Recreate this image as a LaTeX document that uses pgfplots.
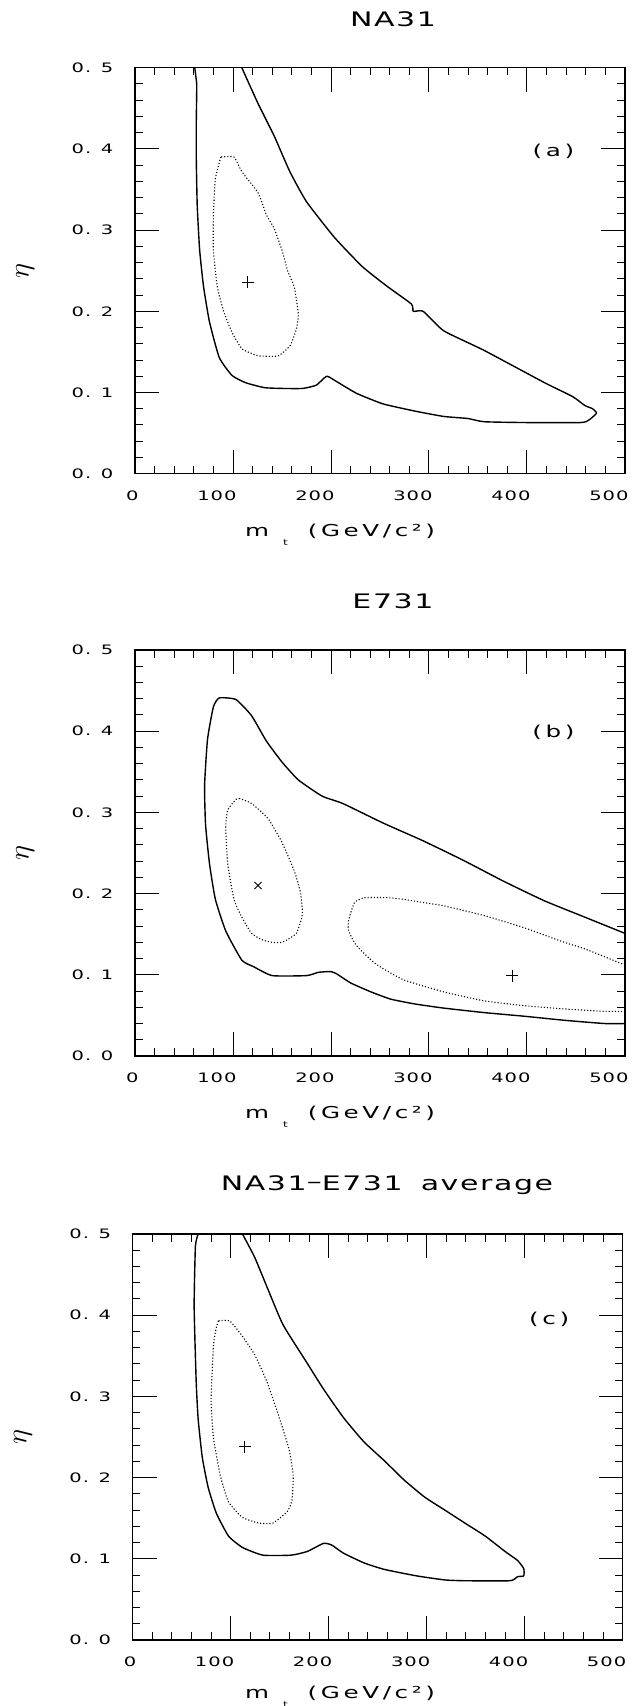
\documentclass[border=0pt]{standalone}
\usepackage{fontspec}
\setmainfont{DejaVu Sans}
\newfontfamily\tickfont{DejaVu Sans}[FakeStretch=1.5,LetterSpace=8]
\newfontfamily\titlefont{DejaVu Sans}[FakeStretch=1.5,LetterSpace=8]
\newfontfamily\labfont{DejaVu Sans}[FakeStretch=1.5,LetterSpace=22]
\usepackage{pgfplots}
\pgfplotsset{compat=1.18}
\pgfplotsset{panel/.style={
  scale only axis, width=245pt, height=203pt, anchor=north west,
  xmin=0, xmax=500, ymin=0, ymax=0.5,
  xtick={0,100,200,300,400,500},
  ytick={0,0.1,0.2,0.3,0.4,0.5},
  xticklabels={{0\hspace{-3pt}},100,200,300,400,500},
  yticklabels={0. 0,0. 1,0. 2,0. 3,0. 4,0. 5},
  minor x tick num=4, minor y tick num=4,
  tick pos=both, tick align=inside,
  major tick length=12pt, minor tick length=3.85pt,
  every tick/.style={black, line width=0.5pt},
  axis line style={line width=0.6pt},
  xticklabel style={font=\tickfont\fontsize{6.5}{7}\selectfont, anchor=north east, inner sep=0pt, xshift=2pt, yshift=-8.3pt},
  yticklabel style={font=\tickfont\fontsize{6.5}{7}\selectfont, anchor=east, inner sep=0pt, xshift=-10.6pt},
  title style={font=\titlefont\fontsize{10}{11}\selectfont, anchor=center, inner sep=0pt, yshift=0pt},
  xlabel style={font=\labfont\fontsize{8.2}{9}\selectfont, at={(axis description cs:0.224,-0.1537)}, anchor=base west, inner sep=0pt},
  ylabel style={at={(axis description cs:-0.224,0.5)}, anchor=center, inner sep=0pt, font=\fontsize{15}{16}\selectfont},
  ylabel={$\eta$},
  xlabel={m\hspace{7pt}\raisebox{-4.5pt}{\fontsize{4}{4}\selectfont t}\hspace{10pt}(GeV/c²)},
  solid/.style={black, line width=0.7pt, line join=round, smooth, tension=0.3},
  dot/.style={black, densely dotted, line width=0.55pt, smooth, tension=0.3},
}}
\begin{document}
\begin{tikzpicture}
\useasboundingbox (0,0) rectangle (316.5pt,-853pt);
% ---------------- (a) NA31
\begin{axis}[panel, at={(67.5pt,-33.85pt)},
  title={NA31}, title style={at={(axis description cs:0.5265,1.091)}}]
\addplot[solid] coordinates {(61,0.5) (62,0.49) (63,0.478) (62.5,0.43) (62.5,0.39) (63.5,0.33) (66,0.275) (70,0.23) (76,0.187) (86,0.143) (99,0.121) (113,0.112) (132,0.106) (150,0.105) (171,0.105) (185,0.109) (195.5,0.120) (205,0.114) (226,0.099) (253,0.086) (286,0.077) (315,0.0705) (339.5,0.068) (356,0.064) (397,0.063) (455,0.063) (463,0.066) (469,0.072) (471,0.075) (467,0.080) (459,0.084) (446.5,0.095) (418,0.112) (356,0.152) (315,0.176) (294,0.200) (284,0.200) (282,0.209) (257,0.231) (232,0.255) (203.5,0.291) (175,0.335) (158,0.372) (142,0.416) (125.5,0.456) (109,0.5)};
\addplot[dot] coordinates {(87.6,0.390) (82,0.363) (80,0.319) (80,0.275) (84,0.230) (90.5,0.200) (99,0.174) (109,0.154) (119,0.148) (127,0.145) (146,0.145) (158.4,0.158) (164.6,0.178) (166.7,0.196) (162.5,0.23) (156,0.249) (150,0.275) (142,0.302) (134,0.319) (125.5,0.346) (109,0.372) (101,0.390) (87.6,0.390)};
\addplot[only marks, mark=+, mark size=3pt, mark options={line width=0.5pt}] coordinates {(115,0.236)};
\node[font=\labfont\fontsize{8.2}{9}\selectfont] at (axis cs:427,0.397) {(a)};
\end{axis}
% ---------------- (b) E731
\begin{axis}[panel, at={(67.5pt,-325pt)},
  title={E731}, title style={at={(axis description cs:0.5265,1.091)}}]
\addplot[solid] coordinates {(500,0.151) (459,0.171) (418,0.191) (376.5,0.215) (335,0.241) (294,0.265) (253,0.287) (212,0.311) (191,0.320) (166.7,0.340) (150,0.362) (134,0.388) (119,0.419) (103,0.439) (86,0.441) (80,0.430) (74,0.390) (71,0.333) (72,0.285) (76,0.237) (82,0.193) (92.6,0.154) (109,0.118) (121,0.110) (140,0.099) (175,0.099) (187,0.103) (199.6,0.104) (206,0.101) (220,0.090) (240.7,0.079) (261,0.070) (286,0.064) (315,0.059) (356,0.0535) (397,0.049) (438,0.044) (479,0.040) (500,0.040)};
\addplot[dot] coordinates {(107,0.317) (103,0.316) (94.6,0.303) (92.6,0.281) (94.6,0.237) (101,0.193) (109,0.171) (119,0.151) (130,0.143) (140,0.140) (150,0.140) (164.6,0.151) (170.8,0.175) (168.7,0.202) (162.5,0.228) (150,0.263) (136,0.292) (119,0.311) (107,0.317)};
\addplot[dot] coordinates {(500,0.112) (459,0.132) (438,0.140) (397,0.158) (356,0.173) (315,0.185) (294,0.189) (273.7,0.193) (257,0.195) (234.6,0.195) (224,0.189) (218,0.167) (218,0.154) (226,0.136) (245,0.114) (273.7,0.094) (315,0.079) (356,0.068) (397,0.062) (438,0.058) (479,0.055) (500,0.055)};
\addplot[only marks, mark=x, mark size=2.5pt, mark options={line width=0.5pt}] coordinates {(125.5,0.21)};
\addplot[only marks, mark=+, mark size=3pt, mark options={line width=0.5pt}] coordinates {(385,0.099)};
\node[font=\labfont\fontsize{8.2}{9}\selectfont] at (axis cs:427,0.399) {(b)};
\end{axis}
% ---------------- (c) average
\begin{axis}[panel, at={(66.35pt,-617pt)},
  title={NA31\raisebox{0.8pt}{–}E731\hspace{9pt}average}, title style={at={(axis description cs:0.519,1.092)}},
  xlabel style={at={(axis description cs:0.2285,-0.143)}}]
\addplot[solid] coordinates {(66.8,0.5) (64,0.485) (62.7,0.411) (64.8,0.318) (66.8,0.272) (71,0.225) (77,0.188) (85.4,0.156) (97.8,0.128) (112,0.114) (132.8,0.1045) (161.7,0.1045) (178,0.109) (194.7,0.119) (203,0.117) (215,0.107) (236,0.095) (256.6,0.087) (289.6,0.079) (318.5,0.074) (339,0.073) (385,0.073) (392.7,0.078) (399,0.079) (399,0.088) (392.7,0.098) (380,0.109) (359.7,0.128) (339,0.144) (318.5,0.160) (297.9,0.176) (277,0.197) (256.6,0.221) (236,0.244) (215,0.274) (194.7,0.309) (178,0.341) (153.5,0.388) (139,0.429) (124.6,0.471) (112,0.5)};
\addplot[dot] coordinates {(87.5,0.393) (85.4,0.385) (82.5,0.364) (80,0.295) (82.5,0.248) (89.5,0.202) (97.8,0.170) (112,0.151) (128.7,0.144) (143,0.144) (157.6,0.158) (162.5,0.172) (163.8,0.202) (159.7,0.234) (149,0.276) (137,0.318) (124.6,0.351) (112,0.374) (99,0.393) (87.5,0.393)};
\addplot[only marks, mark=+, mark size=3pt, mark options={line width=0.5pt}] coordinates {(114.3,0.238)};
\node[font=\labfont\fontsize{8.2}{9}\selectfont] at (axis cs:425,0.395) {(c)};
\end{axis}
\end{tikzpicture}
\end{document}
